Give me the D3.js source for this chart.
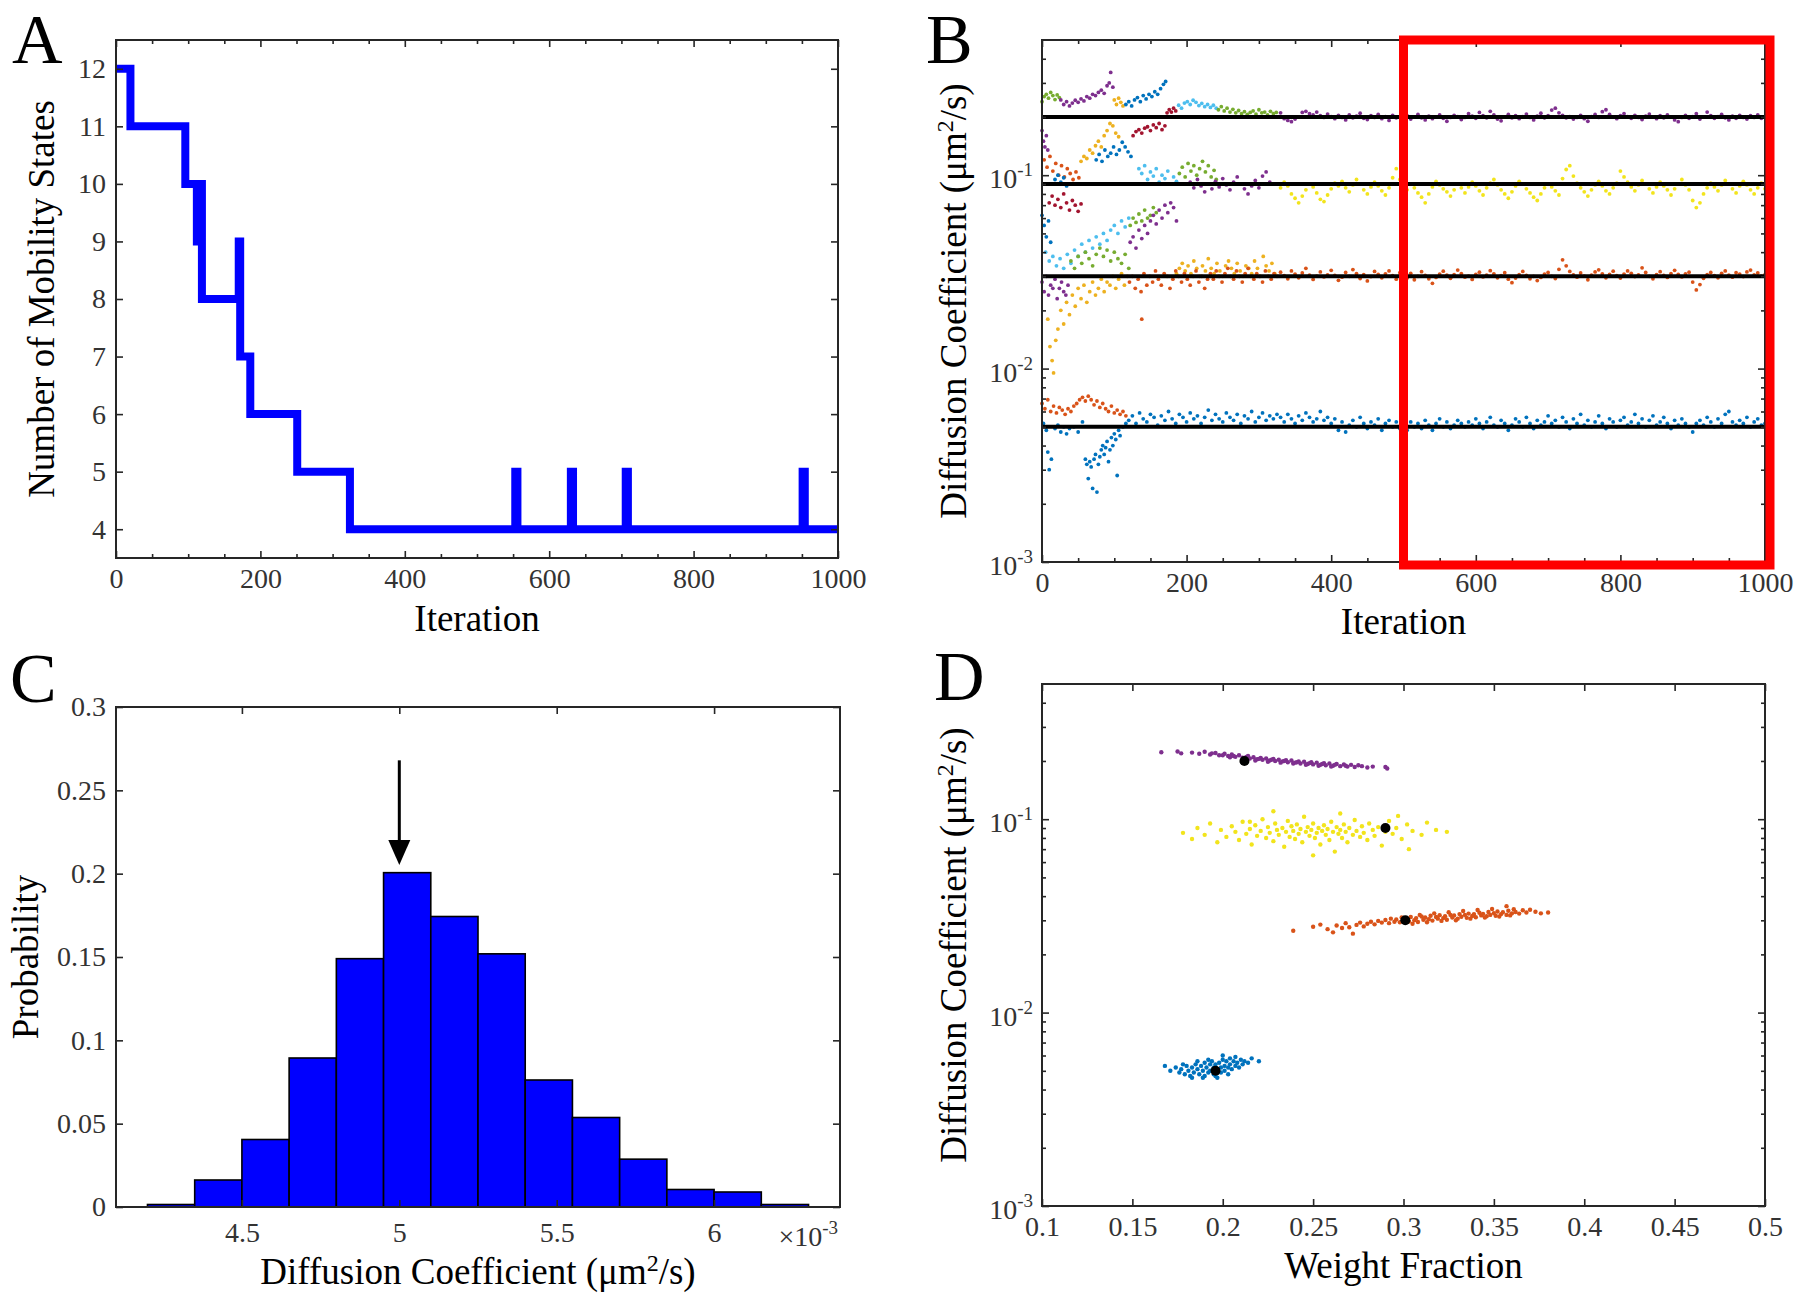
<!DOCTYPE html>
<html>
<head>
<meta charset="utf-8">
<script src="https://cdn.jsdelivr.net/npm/d3@7"></script>
<style>
  body { margin: 0; background: #fff; }
  text { font-family: "Liberation Serif", "Times New Roman", serif; }
</style>
</head>
<body>
<div id="fig"></div>
<script>
/* ================= DATA ================= */

// A: number of mobility states vs iteration (step changes)
const aIter   = [0, 20, 96, 112, 114, 119, 170, 172, 186, 251, 324, 553, 556, 630, 633, 706, 709, 951, 954, 1000];
const aStates = [12, 11, 10, 9, 10, 8, 9, 7, 6, 5, 4, 5, 4, 5, 4, 5, 4, 5, 4, 4];

// B: diffusion coefficient traces, values in 1e-3 um^2/s
// final state levels (black lines)
const bLevels = [200, 90, 30, 5];
// steady part: one value every 5 iterations starting at 330
const bSteadyStart = 330, bSteadyStep = 5;
const bPurple = [210,196,192,189,195,200,211,214,208,205,212,203,199,207,
  201,196,204,199,193,205,198,202,209,197,194,203,199,206,196,201,192,204,198,201,
  197,203,195,200,206,198,193,202,196,200,205,197,190,199,204,201,194,199,208,202,
  197,211,203,198,214,205,195,191,200,206,198,203,196,201,207,199,193,202,209,198,
  203,217,222,210,204,198,201,195,199,204,196,190,201,206,199,213,218,206,200,196,
  203,208,201,197,204,199,194,202,207,200,196,203,198,205,200,193,189,199,204,197,
  201,208,195,200,212,203,197,201,206,198,193,202,197,204,199,195,203,199,205,197,201];
const bYellow = [86,92,88,80,76,72,78,84,90,87,81,75,73,79,
  85,91,88,93,86,82,89,95,90,84,80,87,92,88,83,79,86,97,108,95,
  88,84,90,86,81,77,72,80,87,93,89,85,82,78,84,90,86,81,87,92,
  88,83,79,86,91,95,89,84,80,76,82,88,93,90,85,81,77,74,80,86,
  90,87,83,79,96,107,112,99,91,86,82,78,84,89,93,88,83,80,86,91,
  105,98,92,87,83,89,94,90,85,81,87,92,88,84,79,85,90,95,89,84,
  74,68,72,80,86,91,87,83,89,94,90,85,81,88,93,89,84,80,86,91,85];
const bOrange = [31.5,30.2,29.1,32.0,30.8,29.5,31.2,33.0,30.4,28.9,30.1,31.6,29.8,30.5,
  32.2,30.3,28.6,29.7,31.4,30.0,32.5,31.0,29.2,30.6,28.4,29.9,31.8,30.7,29.5,30.9,32.0,30.2,29.0,31.3,
  30.5,29.4,31.1,28.8,30.0,31.7,30.3,29.1,27.6,29.6,30.8,31.9,30.4,29.3,30.6,32.3,31.0,29.7,30.1,28.9,
  30.7,31.5,29.8,30.4,32.1,30.9,29.5,30.2,31.3,29.0,27.8,29.4,30.6,31.8,30.3,29.1,30.0,28.5,29.6,30.8,
  31.4,30.0,29.2,32.6,36.5,34.0,31.8,30.5,29.7,31.2,30.1,28.8,30.4,31.6,32.4,30.9,29.5,30.7,31.9,30.2,
  29.4,30.8,32.0,31.1,29.9,30.5,33.2,31.4,30.0,29.1,30.6,31.7,30.3,29.6,31.0,32.2,30.7,29.8,30.9,31.5,
  28.0,25.5,27.2,29.3,30.6,31.4,30.2,29.5,31.1,32.0,30.4,29.7,31.3,30.8,29.9,31.6,32.3,30.5,31.2,30.1,30.6];
const bBlue = [5.6,5.3,5.8,5.5,5.2,5.7,5.4,5.9,5.6,5.3,5.5,6.0,5.4,5.6,
  5.2,5.5,4.8,5.3,4.7,5.1,5.4,5.0,5.6,5.2,4.9,5.3,5.1,5.5,4.8,5.2,5.4,5.0,5.3,4.9,
  5.1,4.8,5.3,5.0,5.2,4.9,5.4,5.1,4.8,5.2,5.5,5.0,5.3,4.9,5.1,5.4,5.2,5.0,5.3,5.1,
  5.5,5.2,4.9,5.3,5.6,5.1,5.0,5.4,5.2,4.8,5.1,5.5,5.3,5.0,5.6,5.2,4.9,5.4,5.1,5.3,
  5.7,5.2,5.4,5.0,5.6,5.3,4.9,5.5,5.2,5.8,5.1,5.4,5.0,5.3,5.7,5.2,4.9,5.5,5.3,5.0,
  5.4,5.6,5.1,5.3,5.8,5.2,5.5,5.0,5.4,5.7,5.1,5.3,5.6,5.2,4.9,5.4,5.1,5.5,5.2,5.0,
  4.7,5.2,5.4,5.1,5.6,5.3,5.0,5.5,5.2,5.8,6.0,5.3,5.1,5.4,5.2,5.6,5.0,5.3,5.5,5.1,5.2];
// blue before 330, every 5 iterations from 120
const bBlueEarlyStart = 120;
const bBlueEarly = [5.4,5.7,5.2,5.9,5.5,5.3,5.8,5.6,5.1,5.7,5.4,6.0,5.5,5.2,5.8,5.6,5.3,5.9,5.5,5.7,5.2,
  5.6,6.1,5.4,5.8,5.5,5.3,5.9,5.6,5.4,5.8,5.2,5.7,5.5,6.0,5.3,5.6,5.9,5.4,5.7,5.5,5.8];

// burn-in traces: [iteration, D (1e-3 um^2/s)]
const bGreenTop = [[0,240],[3,255],[6,262],[9,250],[12,268],[15,258],[18,246],[21,260],[24,252]];
const bPurpleTop = [[26,245],[30,232],[34,240],[38,228],[42,236],[46,244],[50,238],[54,248],[58,242],[62,255],[66,250],[70,262],[74,258],[78,268],[82,275],[86,265],[90,290],[93,300],[95,340],[98,285]];
const bGoldTop = [[100,245],[103,232],[106,250],[109,238],[112,228]];
const bBlueTop = [[116,232],[120,240],[124,228],[128,245],[132,252],[136,240],[140,258],[144,248],[148,262],[152,255],[156,270],[160,262],[164,280],[168,295],[171,305]];
const bRedTop = [[173,210],[176,218],[179,212],[182,222],[185,215]];
const bCyanTop = [[189,230],[193,222],[197,236],[201,240],[205,232],[209,244],[213,238],[217,229],[221,235],[225,226],[229,232],[233,224],[237,230],[241,222]];
const bGreenTop2 = [[244,218],[248,226],[252,215],[256,222],[260,212],[264,219],[268,210],[272,216],[276,208],[280,213],[284,206],[288,211],[292,215],[296,207],[300,218],[304,210],[308,212],[312,205],[316,214],[320,208],[324,211]];
const bPurpleMid = [[0,170],[2,150],[4,140],[6,160],[8,135]];
const bOrangeMid = [[3,120],[7,110],[11,125],[15,105],[19,115],[23,100],[27,112],[31,98],[35,108],[39,102],[43,95],[47,104],[51,97]];
const bBlueMid = [[14,90],[18,95],[22,100],[26,92],[30,97],[34,88],[75,120],[79,128],[83,118],[87,135],[91,125],[95,130],[99,140],[103,128],[107,135],[111,148],[115,140],[119,132],[123,125]];
const bGoldMid = [[54,118],[58,125],[62,122],[66,135],[70,130],[74,142],[78,150],[82,140],[86,160],[90,170],[94,185],[98,180],[102,165],[106,158]];
const bRedMid = [[126,160],[130,168],[134,172],[138,165],[142,175],[146,178],[150,170],[154,182],[158,176],[162,185],[166,172],[170,180]];
const bCyanMid = [[134,108],[138,102],[142,112],[146,95],[150,104],[154,99],[158,108],[162,92],[166,100],[170,96],[174,105],[178,90],[182,98],[186,93]];
const bGreenMid = [[190,102],[194,110],[198,98],[202,115],[206,105],[210,112],[214,100],[218,108],[222,118],[226,104],[230,112],[234,98],[238,106],[241,95]];
const bPurpleMid2 = [[205,92],[210,86],[215,95],[220,88],[225,82],[230,90],[235,85],[240,93],[245,87],[250,96],[255,89],[260,84],[265,92],[270,98],[275,90],[280,85],[285,80],[290,88],[295,94],[300,86],[305,99],[310,104],[315,92]];
const bRedLow = [[10,72],[14,78],[18,70],[22,75],[26,68],[30,80],[34,72],[38,66],[42,74],[46,70],[50,65],[54,71]];
const bBlueLow = [[0,62],[3,55],[6,48],[9,58],[12,45]];
const bCyanLow = [[5,40],[10,36],[15,38],[20,34],[25,37],[30,33],[35,39],[40,35],[45,41],[50,38],[55,44],[60,40],[65,46],[70,42],[75,48],[80,44],[85,50],[90,46],[95,52],[100,55],[105,50],[110,58],[115,54],[120,60]];
const bGreenLow = [[40,36],[45,33],[50,38],[55,35],[60,40],[65,37],[70,34],[75,39],[80,42],[85,38],[90,41],[95,36],[100,40],[105,37],[110,35],[115,39],[120,33],[122,55],[126,60],[130,57],[134,63],[138,58],[142,66],[146,60],[150,62],[154,68],[158,64]];
const bPurpleLow = [[0,28],[3,25],[6,30],[9,24],[12,27],[15,26],[18,29],[21,23],[24,26],[27,28],[30,25],[33,24],[36,27],[122,45],[126,48],[130,42],[134,52],[138,47],[142,55],[146,50],[150,58],[154,62],[158,56],[162,66],[166,60],[170,70],[174,64],[178,72],[182,68],[186,58]];
const bGoldLow = [[8,18],[11,13],[14,11],[16,9.5],[19,14],[22,16],[26,20],[30,17],[34,22],[38,19],[42,24],[46,21],[50,26],[54,23],[58,27],[62,22],[66,25],[70,28],[74,24],[78,26],[82,29],[86,25],[90,28],[94,27],[98,30],[102,26],[106,29],[110,31],[114,27],[118,30],
  [186,31],[190,33],[194,35],[198,32],[202,34],[206,31],[210,36],[214,33],[218,30],[222,34],[226,32],[230,37],[234,33],[238,31],[242,35],[246,32],[250,30],[254,34],[258,36],[262,33],[266,31],[270,35],[274,32],[278,30],[282,34],[286,33],[290,31],[294,36],[298,33],[302,30],[306,38],[310,34],[314,32],[318,35],[322,31]];
const bOrangeLow = [[121,28],[125,30],[129,26],[133,29],[137,25],[138,18],[141,31],[145,27],[149,30],[153,28],[157,32],[161,29],[165,27],[169,31],[173,30],[177,26],[181,29],[185,32],[189,30],[193,28],[197,31],[201,29],[205,27],[209,30],[213,32],[217,28],[221,30],[225,26],[229,29],
  [233,31],[237,29],[241,32],[245,30],[249,28],[253,31],[257,33],[261,30],[265,29],[269,32],[273,30],[277,28],[281,31],[285,33],[289,30],[293,29],[297,31],[301,30],[305,28],[309,32],[313,30],[317,29],[321,31],[325,30]];
const bOrangeBottom = [[0,6.6],[4,6.2],[8,6.9],[12,6.0],[16,6.4],[20,5.9],[24,6.3],[28,6.1],[32,5.8],[36,6.2],[40,6.0],[44,6.4],[48,6.6],[52,6.9],[56,7.1],[60,6.8],[64,7.2],[68,6.9],[72,6.5],[76,6.8],[80,6.3],[84,6.6],[88,6.2],[92,6.0],[96,6.4],[100,5.9],[104,6.1],[108,5.8],[112,6.0],[116,5.7]];
const bBlueBottom = [[2,5.2],[6,4.8],[8,3.7],[10,3.0],[13,3.4],[18,4.9],[22,5.1],[26,4.7],[30,5.0],[34,4.6],[38,4.9],[44,5.0],[50,4.7],[56,5.3],[60,3.4],[62,3.2],[64,2.7],[66,3.3],[68,3.1],[70,2.4],[72,3.4],[74,3.6],[76,2.3],[78,3.2],[80,3.5],[82,3.8],[84,4.0],[86,3.6],[88,3.9],[90,4.2],[92,3.3],[94,3.8],[96,4.4],[98,4.0],[100,4.6],[102,4.3],[104,2.8],[106,4.8],[108,4.5],[112,5.0],[116,5.2]];

// C: histogram of the slowest state (x in 1e-3 um^2/s)
const cBinStart = [4.20,4.35,4.50,4.65,4.80,4.95,5.10,5.25,5.40,5.55,5.70,5.85,6.00,6.15];
const cBinWidth = 0.15;
const cProb = [0.0015,0.0162,0.0405,0.0894,0.149,0.2006,0.1743,0.1519,0.0762,0.0537,0.0287,0.0105,0.009,0.0015];
const cArrowAt = 5.0, cArrowFrom = 0.268, cArrowTo = 0.204;

// D: weight fraction vs diffusion coefficient (D in 1e-3 um^2/s)
const dPurple = [[0.166,222],[0.175,224],[0.177,219],[0.183,221],[0.187,218],[0.190,223],[0.193,216],[0.196,220],[0.198,214],[0.201,218],[0.203,212],[0.205,216],[0.207,210],[0.209,214],[0.211,208],[0.213,210],[0.215,206],[0.217,209],[0.219,204],[0.221,207],[0.222,203],[0.224,206],[0.226,201],[0.228,205],[0.229,200],[0.231,203],[0.233,199],[0.235,202],[0.236,197],[0.238,201],[0.240,196],[0.242,199],[0.243,194],[0.245,198],[0.247,193],[0.249,197],[0.250,192],[0.252,196],[0.254,191],[0.256,195],[0.257,190],[0.259,194],[0.261,189],[0.263,193],[0.265,188],[0.267,192],[0.269,187],[0.271,191],[0.273,186],[0.275,190],[0.277,188],[0.280,185],[0.283,187],[0.290,186],[0.291,183],
  [0.204,209],[0.214,212],[0.220,205],[0.227,203],[0.234,200],[0.241,197],[0.248,195],[0.255,193],[0.262,191],[0.268,189],[0.212,204],[0.218,201],[0.225,198],[0.232,196],[0.239,194],[0.246,191],[0.253,189],[0.260,187],[0.194,219],[0.200,214],[0.206,212]];
const dYellow = [[0.178,85],[0.183,79],[0.186,90],[0.190,83],[0.193,95],[0.197,76],[0.199,88],[0.202,81],[0.205,92],[0.207,86],[0.209,78],[0.211,97],[0.213,84],[0.215,89],[0.216,74],[0.218,93],[0.219,82],[0.221,87],[0.222,100],[0.224,80],[0.225,91],[0.226,85],[0.228,77],[0.229,95],[0.230,88],[0.231,83],[0.233,90],[0.234,72],[0.235,86],[0.236,98],[0.237,81],[0.238,92],[0.239,87],[0.240,79],[0.241,94],[0.242,84],[0.243,89],[0.244,76],[0.245,103],[0.246,86],[0.247,91],[0.248,82],[0.249,88],[0.250,95],[0.251,80],[0.252,85],[0.253,90],[0.254,74],[0.255,87],[0.256,93],[0.257,83],[0.258,89],[0.259,78],[0.260,97],[0.261,86],[0.262,68],[0.263,91],[0.264,84],[0.265,88],[0.266,80],[0.267,94],[0.268,86],[0.269,76],[0.270,90],[0.272,83],[0.273,99],[0.274,87],[0.276,81],[0.277,92],[0.278,85],[0.280,78],[0.281,95],[0.283,88],[0.284,82],[0.286,91],[0.288,73],[0.290,86],[0.292,98],[0.294,84],[0.296,90],[0.299,79],[0.302,94],[0.305,87],[0.310,83],[0.313,96],[0.318,88],[0.324,86],[0.303,70],[0.297,104],[0.228,110],[0.250,65],[0.215,97],[0.265,107]];
const dOrange = [[0.239,26.5],[0.250,27.8],[0.254,28.5],[0.258,27.0],[0.261,26.0],[0.263,28.2],[0.266,27.4],[0.268,29.0],[0.270,27.6],[0.272,25.6],[0.274,28.4],[0.276,29.2],[0.278,27.9],[0.280,28.8],[0.282,29.5],[0.284,28.6],[0.286,29.8],
  [0.288,29.2],[0.290,30.1],[0.292,29.0],[0.293,30.6],[0.295,29.5],[0.296,30.3],[0.298,29.3],[0.299,31.0],[0.300,29.8],[0.302,30.5],[0.303,29.6],[0.304,31.2],[0.306,30.0],[0.307,30.8],[0.308,29.4],[0.310,31.4],[0.311,30.2],[0.312,31.0],[0.314,30.4],[0.315,31.7],[0.316,29.9],[0.318,31.2],[0.319,30.6],[0.320,31.9],[0.322,30.8],[0.323,31.5],[0.324,30.2],[0.326,32.0],[0.327,31.0],[0.328,31.8],[0.330,30.6],[0.331,32.3],[0.332,31.3],[0.334,32.0],[0.335,30.9],[0.336,32.5],[0.338,31.6],[0.339,32.3],[0.340,31.1],[0.342,32.8],[0.343,31.8],[0.344,32.4],[0.346,31.5],[0.347,33.1],[0.348,32.0],[0.350,32.7],[0.351,31.7],[0.352,33.3],[0.354,32.3],[0.355,33.0],[0.357,32.0],[0.358,33.6],[0.360,32.6],[0.361,34.2],[0.362,33.1],[0.364,32.5],[0.366,33.8],[0.368,32.9],[0.370,34.0],[0.373,33.2],[0.376,32.6],[0.380,32.9],
  [0.305,28.8],[0.313,29.3],[0.321,29.8],[0.329,30.0],[0.337,30.6],[0.345,31.0],[0.353,31.4],[0.359,31.8],[0.309,32.0],[0.317,32.6],[0.325,33.0],[0.333,33.5],[0.341,33.9],[0.349,34.3],[0.357,35.5]];
const dBlue = [[0.168,5.3],[0.171,5.0],[0.174,5.2],[0.176,4.9],[0.177,5.1],[0.179,4.8],[0.180,5.3],[0.181,5.0],[0.182,4.7],[0.183,5.2],[0.184,4.9],[0.185,5.4],[0.186,5.1],[0.187,4.8],[0.188,5.3],[0.189,5.0],[0.190,5.5],[0.190,4.7],[0.191,5.2],[0.192,4.9],[0.193,5.4],[0.193,5.0],[0.194,5.6],[0.195,5.2],[0.195,4.8],[0.196,5.4],[0.197,5.1],[0.197,4.6],[0.198,5.5],[0.199,5.2],[0.199,4.9],[0.200,5.7],[0.201,5.3],[0.201,5.0],[0.202,5.6],[0.203,5.2],[0.204,5.8],[0.204,5.4],[0.205,5.1],[0.206,5.6],[0.207,5.3],[0.207,5.9],[0.208,5.5],[0.209,5.2],[0.210,5.7],[0.211,5.4],[0.212,5.6],[0.214,5.5],[0.216,5.8],[0.220,5.6],[0.186,5.6],[0.189,4.6],[0.192,5.7],[0.196,4.7],[0.200,6.0],[0.203,4.8],[0.178,5.4],[0.183,4.6]];
const dMeans = [[0.212,200],[0.290,90],[0.301,30],[0.196,5]];

/* ================= STYLE ================= */
const col = {
  blue: "#0072BD", orange: "#D95319", gold: "#EDB120", purple: "#7E2F8E",
  green: "#77AC30", cyan: "#4DBEEE", red: "#A2142F", yellow: "#F2E41C"
};
const FONT = "Liberation Serif";
const AXC = "#262626";
const TICKFS = 28;
const milli = v => v * 1e-3;

const W = 1797, H = 1304;
const svg = d3.select("#fig").append("svg")
  .attr("width", W).attr("height", H)
  .style("background", "#fff");

const boxA = {l: 116, r: 838, t: 40, b: 558};
const boxB = {l: 1042, r: 1765, t: 40, b: 562};
const boxC = {l: 116, r: 840, t: 707, b: 1207};
const boxD = {l: 1042, r: 1765, t: 684, b: 1206};

/* ================= HELPERS ================= */
function ticks(axisFn, scale, values, size, fmt, tx, ty, pad) {
  const ax = axisFn(scale).tickValues(values).tickSizeInner(-size).tickSizeOuter(0)
    .tickPadding(pad || 10).tickFormat(fmt ? fmt : "");
  const g = svg.append("g").attr("transform", "translate(" + tx + "," + ty + ")").call(ax);
  g.select(".domain").remove();
  g.selectAll("line").attr("stroke", AXC).attr("stroke-width", 1.6);
  g.selectAll("text").attr("font-family", FONT).attr("font-size", TICKFS).attr("fill", "#333");
  return g;
}

function frame(box) {
  svg.append("rect")
    .attr("x", box.l).attr("y", box.t)
    .attr("width", box.r - box.l).attr("height", box.b - box.t)
    .attr("fill", "none").attr("stroke", AXC).attr("stroke-width", 2);
}

// x axis on bottom + mirrored ticks on top
function xAxes(box, x, major, minor, fmt, pad) {
  ticks(d3.axisBottom, x, major, 7, fmt, 0, box.b, pad);
  ticks(d3.axisTop, x, major, 7, null, 0, box.t);
  if (minor) {
    ticks(d3.axisBottom, x, minor, 4, null, 0, box.b);
    ticks(d3.axisTop, x, minor, 4, null, 0, box.t);
  }
}

function yAxes(box, y, major, minor, fmt) {
  ticks(d3.axisLeft, y, major, 7, fmt, box.l, 0);
  ticks(d3.axisRight, y, major, 7, null, box.r, 0);
  if (minor) {
    ticks(d3.axisLeft, y, minor, 4, null, box.l, 0);
    ticks(d3.axisRight, y, minor, 4, null, box.r, 0);
  }
}

// log axis labels as 10^n
function logLabels(box, y, exps) {
  exps.forEach(function (e) {
    const t = svg.append("text")
      .attr("x", box.l - 9).attr("y", y(Math.pow(10, e)) + 13)
      .attr("text-anchor", "end")
      .attr("font-family", FONT).attr("font-size", TICKFS).attr("fill", "#333");
    t.append("tspan").text("10");
    t.append("tspan").attr("dy", -12).attr("font-size", 19).text("-" + Math.abs(e));
  });
}

function logMinor() {
  const out = [];
  [1e-3, 1e-2, 1e-1].forEach(function (dec) {
    for (let k = 2; k <= 9; k++) if (k * dec < 0.5) out.push(k * dec);
  });
  return out;
}

function panelLetter(txt, x, y) {
  svg.append("text").attr("x", x).attr("y", y)
    .attr("font-family", FONT).attr("font-size", 70).attr("fill", "#000").text(txt);
}

function xLabel(box, y, txt) {
  return svg.append("text").attr("x", (box.l + box.r) / 2).attr("y", y)
    .attr("text-anchor", "middle").attr("font-family", FONT)
    .attr("font-size", 37).attr("fill", "#000").text(txt);
}

function yLabel(box, x, txt) {
  return svg.append("text")
    .attr("transform", "translate(" + x + "," + ((box.t + box.b) / 2) + ") rotate(-90)")
    .attr("text-anchor", "middle").attr("font-family", FONT)
    .attr("font-size", 37).attr("fill", "#000").text(txt);
}

function diffLabel(sel) {
  sel.text(null);
  sel.append("tspan").text("Diffusion Coefficient (\u03bcm");
  sel.append("tspan").attr("dy", -13).attr("font-size", 24).text("2");
  sel.append("tspan").attr("dy", 13).text("/s)");
}

/* ================= PANEL A ================= */
const xA = d3.scaleLinear().domain([0, 1000]).range([boxA.l, boxA.r]);
const yA = d3.scaleLinear().domain([3.5, 12.5]).range([boxA.b, boxA.t]);

const aPts = aIter.map((it, i) => [it, aStates[i]]);
svg.append("path")
  .datum(aPts)
  .attr("d", d3.line().x(d => xA(d[0])).y(d => yA(d[1])).curve(d3.curveStepAfter))
  .attr("fill", "none").attr("stroke", "#0000FF").attr("stroke-width", 8)
  .attr("stroke-linejoin", "miter");

xAxes(boxA, xA, [0, 200, 400, 600, 800, 1000], d3.range(50, 1000, 50).filter(v => v % 200), d3.format("d"));
yAxes(boxA, yA, [4, 5, 6, 7, 8, 9, 10, 11, 12], null, d3.format("d"));
frame(boxA);
xLabel(boxA, 631, "Iteration");
yLabel(boxA, 54, "Number of Mobility States");
panelLetter("A", 12, 63);

/* ================= PANEL B ================= */
const xB = d3.scaleLinear().domain([0, 1000]).range([boxB.l, boxB.r]);
const yB = d3.scaleLog().domain([1e-3, 0.5]).range([boxB.b, boxB.t]);

const bLayer = svg.append("g");
function dots(g, pts, color, r, xs, ys) {
  g.selectAll(null).data(pts).enter().append("circle")
    .attr("cx", d => xs(d[0])).attr("cy", d => ys(milli(d[1])))
    .attr("r", r).attr("fill", color);
}
const bEarly = [
  [bGreenTop, col.green], [bPurpleTop, col.purple], [bGoldTop, col.gold], [bBlueTop, col.blue],
  [bRedTop, col.red], [bCyanTop, col.cyan], [bGreenTop2, col.green],
  [bPurpleMid, col.purple], [bOrangeMid, col.orange], [bBlueMid, col.blue], [bGoldMid, col.gold],
  [bRedMid, col.red], [bCyanMid, col.cyan], [bGreenMid, col.green], [bPurpleMid2, col.purple],
  [bRedLow, col.red], [bBlueLow, col.blue], [bCyanLow, col.cyan], [bGreenLow, col.green],
  [bPurpleLow, col.purple], [bGoldLow, col.gold], [bOrangeLow, col.orange],
  [bOrangeBottom, col.orange], [bBlueBottom, col.blue]
];
bEarly.forEach(s => dots(bLayer, s[0], s[1], 1.9, xB, yB));
dots(bLayer, bBlueEarly.map((v, i) => [bBlueEarlyStart + i * bSteadyStep, v]), col.blue, 1.9, xB, yB);

const bSteady = [[bPurple, col.purple], [bYellow, col.yellow], [bOrange, col.orange], [bBlue, col.blue]];
bSteady.forEach(s => dots(bLayer, s[0].map((v, i) => [bSteadyStart + i * bSteadyStep, v]), s[1], 1.9, xB, yB));

svg.selectAll(null).data(bLevels).enter().append("line")
  .attr("x1", xB(0)).attr("x2", xB(1000))
  .attr("y1", d => yB(milli(d))).attr("y2", d => yB(milli(d)))
  .attr("stroke", "#000").attr("stroke-width", 4);

xAxes(boxB, xB, [0, 200, 400, 600, 800, 1000], d3.range(50, 1000, 50).filter(v => v % 200), d3.format("d"));
yAxes(boxB, yB, [1e-3, 1e-2, 1e-1], logMinor(), null);
frame(boxB);
logLabels(boxB, yB, [-3, -2, -1]);
xLabel(boxB, 634, "Iteration");
diffLabel(yLabel(boxB, 966, ""));
panelLetter("B", 926, 63);

// highlighted window
svg.append("rect")
  .attr("x", xB(500)).attr("y", yB(0.5))
  .attr("width", xB(1000) - xB(500) + 5).attr("height", yB(1e-3) - yB(0.5) + 3)
  .attr("fill", "none").attr("stroke", "#FF0000").attr("stroke-width", 9);

/* ================= PANEL C ================= */
const xC = d3.scaleLinear().domain([4.1, 6.4]).range([boxC.l, boxC.r]);
const yC = d3.scaleLinear().domain([0, 0.3]).range([boxC.b, boxC.t]);

svg.selectAll(null).data(cProb).enter().append("rect")
  .attr("x", (d, i) => xC(cBinStart[i]))
  .attr("y", d => yC(d))
  .attr("width", (d, i) => xC(cBinStart[i] + cBinWidth) - xC(cBinStart[i]))
  .attr("height", d => yC(0) - yC(d))
  .attr("fill", "#0000FF").attr("stroke", "#000").attr("stroke-width", 1.6);

xAxes(boxC, xC, [4.5, 5, 5.5, 6], null, d3.format("~g"), 15);
yAxes(boxC, yC, [0, 0.05, 0.1, 0.15, 0.2, 0.25, 0.3], null, d3.format("~g"));
frame(boxC);

// arrow on the peak
svg.append("line")
  .attr("x1", xC(cArrowAt)).attr("x2", xC(cArrowAt))
  .attr("y1", yC(cArrowFrom)).attr("y2", yC(cArrowTo) - 20)
  .attr("stroke", "#000").attr("stroke-width", 3);
svg.append("path")
  .attr("d", "M" + (xC(cArrowAt) - 11) + "," + (yC(cArrowTo) - 27) +
             "L" + (xC(cArrowAt) + 11) + "," + (yC(cArrowTo) - 27) +
             "L" + xC(cArrowAt) + "," + (yC(cArrowTo) - 2) + "Z")
  .attr("fill", "#000");

const xMul = svg.append("text").attr("x", boxC.r - 2).attr("y", 1246)
  .attr("text-anchor", "end").attr("font-family", FONT).attr("font-size", TICKFS).attr("fill", "#333");
xMul.append("tspan").text("\u00d710");
xMul.append("tspan").attr("dy", -12).attr("font-size", 19).text("-3");

diffLabel(xLabel(boxC, 1284, ""));
yLabel(boxC, 38, "Probability");
panelLetter("C", 10, 702);

/* ================= PANEL D ================= */
const xD = d3.scaleLinear().domain([0.1, 0.5]).range([boxD.l, boxD.r]);
const yD = d3.scaleLog().domain([1e-3, 0.5]).range([boxD.b, boxD.t]);

const dLayer = svg.append("g");
[[dPurple, col.purple], [dYellow, col.yellow], [dOrange, col.orange], [dBlue, col.blue]]
  .forEach(s => dots(dLayer, s[0], s[1], 2.2, xD, yD));
dots(dLayer, dMeans, "#000", 5, xD, yD);

xAxes(boxD, xD, [0.1, 0.15, 0.2, 0.25, 0.3, 0.35, 0.4, 0.45, 0.5], null, d3.format("~g"));
yAxes(boxD, yD, [1e-3, 1e-2, 1e-1], logMinor(), null);
frame(boxD);
logLabels(boxD, yD, [-3, -2, -1]);
xLabel(boxD, 1278, "Weight Fraction");
diffLabel(yLabel(boxD, 966, ""));
panelLetter("D", 934, 700);
</script>
</body>
</html>
